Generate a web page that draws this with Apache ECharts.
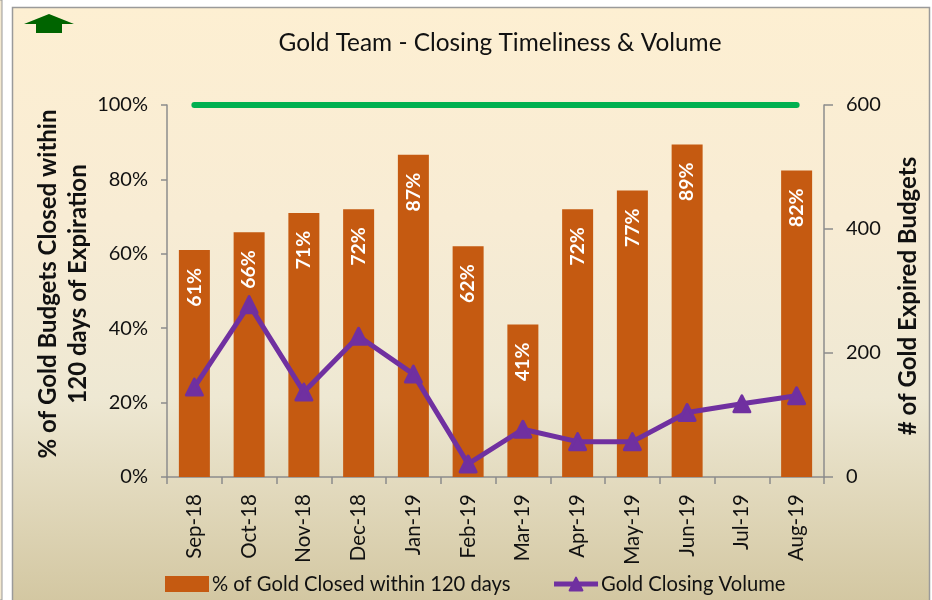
<!DOCTYPE html>
<html>
<head>
<meta charset="utf-8">
<style>html,body{margin:0;padding:0;background:#fff}#c{width:932px;height:600px}</style>
<script src="https://cdn.jsdelivr.net/npm/echarts@6/dist/echarts.min.js"></script>
</head>
<body>
<div id="c"></div>
<script>
const categories = ['Sep-18','Oct-18','Nov-18','Dec-18','Jan-19','Feb-19','Mar-19','Apr-19','May-19','Jun-19','Jul-19','Aug-19'];
const pctClosed = [61,65.8,71,72,86.6,62,41,72,77,89.4,null,82.4];
const closingVolume = [145,278,137,227,166,21,77,57,57,104,118,131];
const target = [100,100,100,100,100,100,100,100,100,100,100,100];
const FONT = 'Lato';
const chart = echarts.init(document.getElementById('c'), null, {renderer:'canvas'});
const bgGrad = new echarts.graphic.LinearGradient(0,0,0,1,[
  {offset:0,color:'#fdefd2'},{offset:0.35,color:'#f8ecd4'},{offset:0.65,color:'#eee8d3'},{offset:1,color:'#d2c6a0'}]);
chart.setOption({
  animation:false,
  textStyle:{fontFamily:FONT,color:'#111'},
  title:{text:'Gold Team - Closing Timeliness & Volume',left:495,top:26,textAlign:'center',
    textStyle:{fontFamily:FONT,fontSize:24.4,fontWeight:'normal',color:'#111'}},
  grid:{left:167,right:108,top:105,bottom:123,containLabel:false},
  graphic:[
    {type:'rect',z:-10,silent:true,shape:{x:-2,y:0,width:4,height:600},style:{fill:'#f3e8cf',stroke:'#999',lineWidth:1}},
    {type:'rect',z:-10,silent:true,shape:{x:12.5,y:7.5,width:917,height:600},style:{fill:bgGrad,stroke:'#9a9a9a',lineWidth:1.5}},
    {type:'polygon',z:5,silent:true,shape:{points:[[49,14],[74,24],[62,24],[62,33],[36,33],[36,24],[24,24]]},style:{fill:'#006400'}}
  ],
  legend:{left:160,top:569,itemGap:41,itemWidth:44,itemHeight:16,
    data:[{name:'% of Gold Closed within 120 days',icon:'rect'},{name:'Gold Closing Volume',lineStyle:{width:5}}],
    textStyle:{fontFamily:FONT,fontSize:20.2,color:'#111',padding:[0,0,0,-2]}},
  xAxis:{type:'category',data:categories,boundaryGap:true,
    axisLine:{lineStyle:{color:'#8c8c8c',width:1.5}},
    axisTick:{show:true,length:7,alignWithLabel:false,lineStyle:{color:'#8c8c8c',width:1.5}},
    axisLabel:{rotate:90,fontSize:20.5,color:'#111',margin:17,interval:0,fontFamily:FONT}},
  yAxis:[
    {type:'value',min:0,max:100,interval:20,
     name:'% of Gold Budgets Closed within\n120 days of Expiration',nameLocation:'middle',nameGap:74,nameRotate:90,nameMoveOverlap:false,
     nameTextStyle:{fontFamily:FONT,fontSize:24,fontWeight:'bold',color:'#111',lineHeight:30,padding:[0,0,0,14]},
     splitLine:{show:false},
     axisLine:{show:true,lineStyle:{color:'#8c8c8c',width:1.5}},
     axisTick:{show:true,length:6,lineStyle:{color:'#8c8c8c',width:1.5}},
     axisLabel:{formatter:'{value}%',fontSize:20,color:'#111',margin:19,fontFamily:FONT,padding:[5,0,0,0]}},
    {type:'value',min:0,max:600,interval:200,position:'right',
     name:'# of Gold Expired Budgets',nameLocation:'middle',nameGap:72,nameRotate:90,nameMoveOverlap:false,
     nameTextStyle:{fontFamily:FONT,fontSize:24,fontWeight:'bold',color:'#111',padding:[0,10,0,0]},
     splitLine:{show:false},
     axisLine:{show:true,lineStyle:{color:'#8c8c8c',width:1.5}},
     axisTick:{show:true,length:9,lineStyle:{color:'#8c8c8c',width:1.5}},
     axisLabel:{fontSize:20,color:'#111',margin:22,fontFamily:FONT,padding:[5,0,0,0]}}
  ],
  series:[
    {name:'% of Gold Closed within 120 days',type:'bar',data:pctClosed,yAxisIndex:0,barWidth:31,z:2,
     itemStyle:{color:'#c55a11'},
     label:{show:true,position:'insideTop',rotate:90,distance:18,formatter:p=>Math.round(p.value)+'%',color:'#fff',fontSize:19.5,fontWeight:'bold',fontFamily:FONT,align:'right',verticalAlign:'middle'}},
    {name:'Target',type:'line',data:target,yAxisIndex:0,symbol:'none',z:3,
     lineStyle:{color:'#00b050',width:6,cap:'round'}},
    {name:'Gold Closing Volume',type:'line',data:closingVolume,yAxisIndex:1,symbol:'triangle',symbolSize:16,showSymbol:true,z:4,
     lineStyle:{color:'#7030a0',width:5},
     itemStyle:{color:'#7030a0',borderColor:'#7030a0',borderWidth:3,borderJoin:'round'}}
  ]
});
</script>
</body>
</html>
